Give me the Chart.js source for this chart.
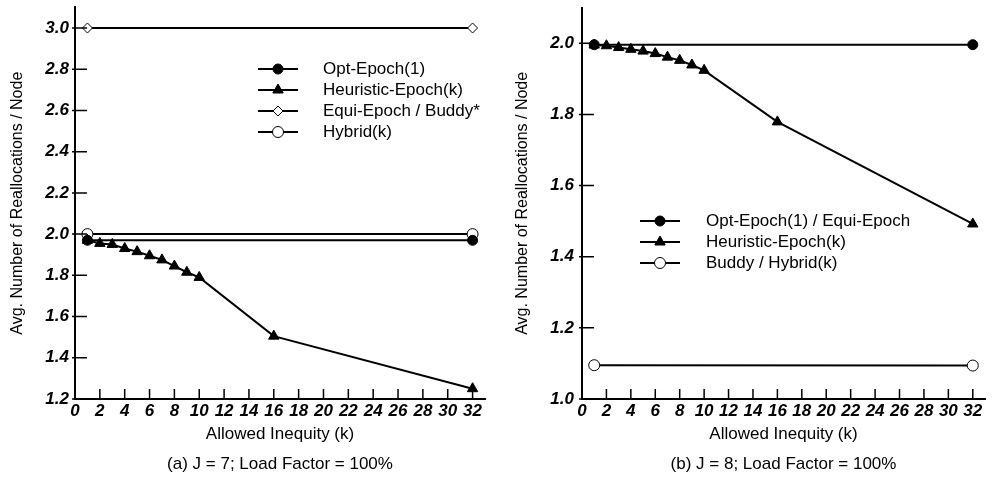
<!DOCTYPE html>
<html>
<head>
<meta charset="utf-8">
<script src="https://cdn.jsdelivr.net/npm/chart.js@4.4.1/dist/chart.umd.min.js"></script>
<style>
  html, body { margin: 0; padding: 0; background: #fff; }
  .row { display: flex; width: 992px; height: 477px; }
  canvas { display: block; }
</style>
</head>
<body>
<div class="row">
  <canvas id="chartJ7" width="496" height="477"></canvas>
  <canvas id="chartJ8" width="496" height="477"></canvas>
</div>
<script>
// allowed inequity values
const kSteps = [1, 2, 3, 4, 5, 6, 7, 8, 9, 10, 16, 32];
const kEnds = [1, 32];
const xTicks = [0, 2, 4, 6, 8, 10, 12, 14, 16, 18, 20, 22, 24, 26, 28, 30, 32];

// (a) J = 7
const optEpochJ7 = [1.97, 1.97];
const heuristicJ7 = [1.97, 1.955, 1.95, 1.93, 1.915, 1.895, 1.875, 1.845, 1.815, 1.79, 1.505, 1.25];
const equiBuddyJ7 = [3.0, 3.0];
const hybridJ7 = [2.0, 2.0];
const yTicksJ7 = [1.2, 1.4, 1.6, 1.8, 2.0, 2.2, 2.4, 2.6, 2.8, 3.0];

// (b) J = 8
const optEquiJ8 = [1.996, 1.996];
const heuristicJ8 = [1.995, 1.993, 1.988, 1.983, 1.978, 1.971, 1.961, 1.952, 1.939, 1.924, 1.779, 1.492];
const buddyHybridJ8 = [1.095, 1.094];
const yTicksJ8 = [1.0, 1.2, 1.4, 1.6, 1.8, 2.0];

const FONT = '"Liberation Sans", Arial, Helvetica, sans-serif';

function pts(xs, ys) {
  return xs.map((x, i) => ({ x: x, y: ys[i] }));
}

function series(label, xs, ys, style, radius, filled) {
  return {
    label: label,
    data: pts(xs, ys),
    borderColor: '#000',
    borderWidth: 2,
    tension: 0,
    pointStyle: style,
    pointRadius: radius,
    pointHoverRadius: radius,
    pointBorderWidth: 1,
    pointBorderColor: '#000',
    pointBackgroundColor: filled ? '#000' : '#fff',
    clip: false
  };
}

// tick marks point into the plot area
const innerTicks = {
  id: 'innerTicks',
  afterDatasetsDraw(chart) {
    const { ctx, chartArea } = chart;
    const xs = chart.scales.x, ys = chart.scales.y;
    ctx.save();
    ctx.strokeStyle = '#000';
    ctx.lineWidth = 1.5;
    ctx.beginPath();
    ys.ticks.forEach(t => {
      const py = ys.getPixelForValue(t.value);
      ctx.moveTo(chartArea.left - 3, py);
      ctx.lineTo(chartArea.left + 12, py);
    });
    xs.ticks.forEach(t => {
      if (t.value === 0) return;
      const px = xs.getPixelForValue(t.value);
      ctx.moveTo(px, chartArea.bottom);
      ctx.lineTo(px, chartArea.bottom - 10);
    });
    ctx.stroke();
    ctx.restore();
  }
};

// legend drawn inside the plot
const boxLegend = {
  id: 'boxLegend',
  afterDatasetsDraw(chart, args, opts) {
    const { ctx } = chart;
    ctx.save();
    chart.data.datasets.forEach((ds, i) => {
      const y = opts.y + i * opts.rowGap;
      ctx.strokeStyle = '#000';
      ctx.lineWidth = 2;
      ctx.beginPath();
      ctx.moveTo(opts.x, y);
      ctx.lineTo(opts.x + opts.lineLen, y);
      ctx.stroke();
      ctx.fillStyle = ds.pointBackgroundColor;
      ctx.lineWidth = 1;
      Chart.helpers.drawPoint(ctx, {
        pointStyle: ds.pointStyle,
        radius: ds.pointRadius,
        borderWidth: 1,
        rotation: 0
      }, opts.x + opts.lineLen / 2, y);
      ctx.fillStyle = '#000';
      ctx.font = '17px ' + FONT;
      ctx.textBaseline = 'middle';
      ctx.textAlign = 'left';
      ctx.fillText(ds.label, opts.textX, y);
    });
    ctx.restore();
  }
};

function makeChart(id, datasets, cfg) {
  const tickFont = { family: FONT, size: 17, style: 'italic', weight: 'bold' };
  return new Chart(document.getElementById(id), {
    type: 'line',
    data: { datasets: datasets },
    plugins: [innerTicks, boxLegend],
    options: {
      responsive: false,
      animation: false,
      events: [],
      layout: { padding: { top: cfg.top, right: cfg.right, bottom: 0, left: 0 } },
      scales: {
        x: {
          type: 'linear',
          min: 0,
          max: 33,
          grid: { display: false, drawTicks: false },
          border: { color: '#000', width: 2 },
          afterBuildTicks: s => { s.ticks = xTicks.map(v => ({ value: v })); },
          afterFit: s => { s.height = 45.6; s.paddingLeft = 0; s.paddingRight = 0; },
          ticks: {
            color: '#000',
            font: tickFont,
            padding: 2,
            maxRotation: 0,
            autoSkip: false,
            callback: v => String(v)
          },
          title: {
            display: true,
            text: 'Allowed Inequity (k)',
            color: '#000',
            font: { family: FONT, size: 17 },
            padding: { top: 0, bottom: 0 }
          }
        },
        y: {
          type: 'linear',
          min: cfg.yMin,
          max: cfg.yMax,
          grid: { display: false, drawTicks: false },
          border: { color: '#000', width: 2 },
          afterBuildTicks: s => { s.ticks = cfg.yTicks.map(v => ({ value: v })); },
          afterFit: s => { s.width = cfg.yWidth; s.paddingTop = 0; s.paddingBottom = 0; },
          ticks: {
            color: '#000',
            font: tickFont,
            padding: cfg.labelPad,
            autoSkip: false,
            callback: v => Number(v).toFixed(1)
          },
          title: {
            display: true,
            text: 'Avg. Number of Reallocations / Node',
            color: '#000',
            font: { family: FONT, size: 16 },
            padding: { top: cfg.titlePad, bottom: 0 }
          }
        }
      },
      plugins: {
        legend: { display: false },
        tooltip: { enabled: false },
        title: {
          display: true,
          position: 'bottom',
          fullSize: false,
          text: cfg.caption,
          color: '#000',
          font: { family: FONT, size: 17, weight: 'normal' },
          padding: { top: 10, bottom: 2 }
        },
        boxLegend: cfg.legend
      }
    }
  });
}

makeChart('chartJ7', [
  series('Opt-Epoch(1)', kEnds, optEpochJ7, 'circle', 5, true),
  series('Heuristic-Epoch(k)', kSteps, heuristicJ7, 'triangle', 6, true),
  series('Equi-Epoch / Buddy*', kEnds, equiBuddyJ7, 'rectRot', 5, false),
  series('Hybrid(k)', kEnds, hybridJ7, 'circle', 5.5, false)
], {
  yMin: 1.2, yMax: 3.1, yTicks: yTicksJ7,
  top: 7.4, right: 11, yWidth: 75, labelPad: 6, titlePad: 8,
  caption: '(a) J = 7; Load Factor = 100%',
  legend: { x: 258, lineLen: 40, textX: 323, y: 69, rowGap: 21 }
});

makeChart('chartJ8', [
  series('Opt-Epoch(1) / Equi-Epoch', kEnds, optEquiJ8, 'circle', 5, true),
  series('Heuristic-Epoch(k)', kSteps, heuristicJ8, 'triangle', 6, true),
  series('Buddy / Hybrid(k)', kEnds, buddyHybridJ8, 'circle', 5.5, false)
], {
  yMin: 1.0, yMax: 2.1, yTicks: yTicksJ8,
  top: 7.7, right: 0, yWidth: 86, labelPad: 8, titlePad: 17.4,
  caption: '(b) J = 8; Load Factor = 100%',
  legend: { x: 144, lineLen: 40, textX: 210, y: 221, rowGap: 21 }
});
</script>
</body>
</html>
